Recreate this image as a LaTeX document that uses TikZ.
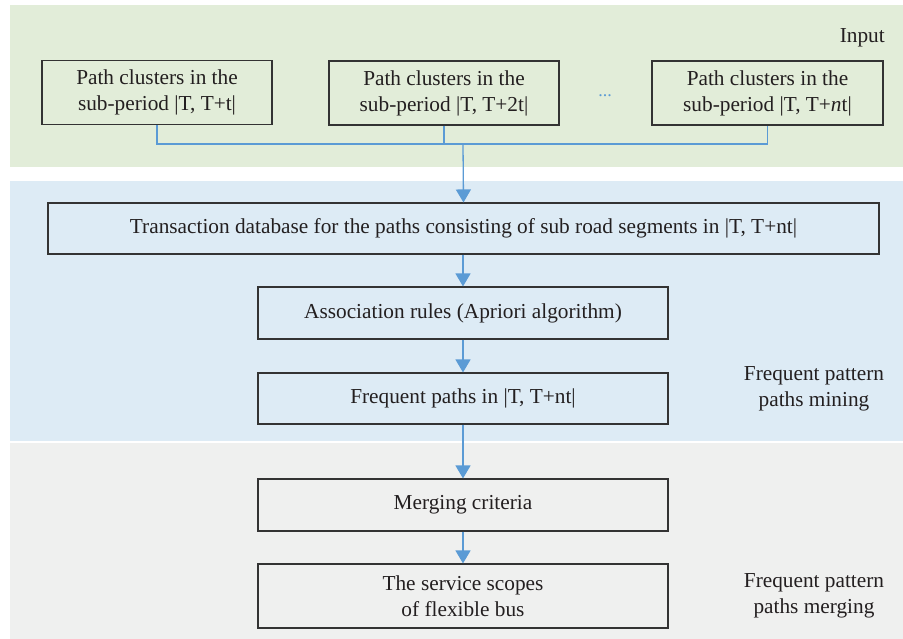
\documentclass[tikz,border=0pt]{standalone}
\usepackage{fontspec}
\setmainfont{Liberation Serif}
\usetikzlibrary{arrows.meta}
\definecolor{greenbg}{HTML}{E2EDD9}
\definecolor{bluebg}{HTML}{DDEBF5}
\definecolor{graybg}{HTML}{EFF0EF}
\definecolor{linec}{HTML}{5B9BD5}
\definecolor{boxline}{HTML}{333333}
\definecolor{txt}{HTML}{231F20}
\tikzset{
  box/.style={draw=boxline, line width=1.1pt, align=center, inner sep=0pt,
    font=\fontsize{21.3}{26}\selectfont, text=txt},
  conn/.style={draw=linec, line width=1.3pt},
  arr/.style={conn, -{Triangle[width=15pt,length=13pt]}},
  lab/.style={align=center, font=\fontsize{21.3}{26}\selectfont, text=txt, inner sep=0pt}
}
\begin{document}
\begin{tikzpicture}[x=1pt,y=-1pt]
\useasboundingbox (0,0) rectangle (903,639);
\fill[white] (0,0) rectangle (903,639);
% bands
\fill[greenbg] (10,5) rectangle (903,167);
\fill[bluebg] (10,181) rectangle (903,441);
\fill[graybg] (10,443) rectangle (903,639);
% input boxes
\node[box, minimum width=230pt, minimum height=64pt] (b1) at (157,92.5) {Path clusters in the\\sub-period |T, T+t|};
\node[box, minimum width=230pt, minimum height=64pt] (b2) at (444,93) {Path clusters in the\\sub-period |T, T+2t|};
\node[box, minimum width=231pt, minimum height=64pt] (b3) at (767.5,93) {Path clusters in the\\sub-period |T, T+\textit{n}t|};
\node[lab, text=linec, font=\fontsize{18}{18}\selectfont, anchor=base] (dots) at (605,97) {...};
\node[lab, anchor=east] (inp) at (885,38) {Input};
% main boxes
\node[box, minimum width=831pt, minimum height=51pt] (tr) at (463.5,228.5) {Transaction database for the paths consisting of sub road segments in |T, T+nt|};
\node[box, minimum width=410pt, minimum height=52pt] (as) at (463,313) {Association rules (Apriori algorithm)};
\node[box, minimum width=410pt, minimum height=51pt] (fp) at (463,398.5) {Frequent paths in |T, T+nt|};
\node[box, minimum width=410pt, minimum height=52pt] (mc) at (463,505) {Merging criteria};
\node[box, minimum width=410pt, minimum height=64pt] (ss) at (463,596) {The service scopes\\of flexible bus};
% side labels
\node[lab] (lm) at (814,389) {Frequent pattern\\paths mining};
\node[lab] (lg) at (814,596) {Frequent pattern\\paths merging};
% connectors
\coordinate (j) at (463,144);
\draw[conn] (b1.south) |- (j);
\draw[conn] (j) -| (b3.south);
\draw[conn] (b2.south) -- (b2.south |- j);
\draw[arr] (j) -- (tr.north);
\draw[arr] (as.north |- tr.south) -- (as.north);
\draw[arr] (as.south) -- (fp.north);
\draw[arr] (fp.south) -- (mc.north);
\draw[arr] (mc.south) -- (ss.north);
\end{tikzpicture}
\end{document}
